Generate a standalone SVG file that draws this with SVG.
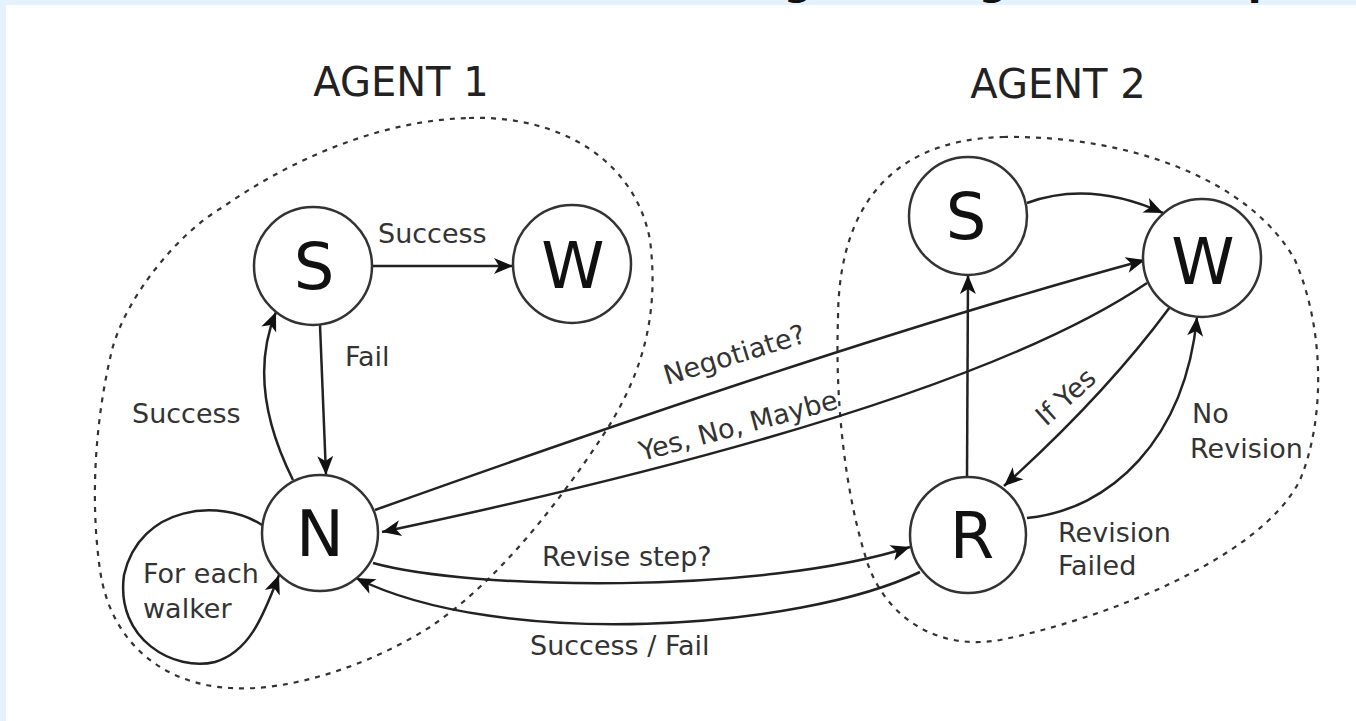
<svg xmlns="http://www.w3.org/2000/svg" width="1356" height="721" viewBox="0 0 1356 721">
  <style>
    .node { fill: #ffffff; stroke: #333333; stroke-width: 2.5; }
    .letter { font-family: "DejaVu Sans", "Liberation Sans", sans-serif; font-size: 64px; fill: #111111; text-anchor: middle; }
    .lbl { font-family: "DejaVu Sans", "Liberation Sans", sans-serif; font-size: 27px; fill: #333333; }
    .agent { font-family: "DejaVu Sans", "Liberation Sans", sans-serif; font-size: 40px; fill: #222222; text-anchor: middle; }
    .title { font-family: "DejaVu Sans", "Liberation Sans", sans-serif; font-size: 40px; font-weight: bold; fill: #111111; text-anchor: middle; }
    .boundary { fill: none; stroke: #333333; stroke-width: 2.2; stroke-dasharray: 5 6; }
    .edge { fill: none; stroke: #222222; stroke-width: 2.5; marker-end: url(#arrow); }
  </style>
  <defs>
    <marker id="arrow" markerUnits="userSpaceOnUse" markerWidth="22" markerHeight="20" viewBox="-20 -10 22 20" refX="0" refY="0" orient="auto">
      <path d="M0,0 L-19,-8 L-14,0 L-19,8 Z" fill="#111111"/>
    </marker>
  </defs>

  <!-- page background -->
  <rect x="0" y="0" width="1356" height="721" fill="#e3f2fd"/>
  <rect x="6" y="5" width="1350" height="716" fill="#ffffff"/>

  <!-- cropped title fragments -->
  <g id="title-fragments">
    <text class="title" x="798" y="-6">g</text>
    <text class="title" x="993" y="-6">g</text>
    <text class="title" x="1262" y="-6">p</text>
  </g>

  <!-- agent boundaries -->
  <g id="agent1">
    <text class="agent" x="401" y="96">AGENT 1</text>
    <path class="boundary" d="M469,118 C560,115 635,160 650,240 C660,320 640,380 600,440 C560,500 500,580 430,627 C370,665 290,692 230,688 C160,684 110,640 100,570 C90,500 95,420 112,350 C125,300 175,235 223,207 C290,160 380,120 469,118 Z"/>
  </g>
  <g id="agent2">
    <text class="agent" x="1058" y="98">AGENT 2</text>
    <path class="boundary" d="M1003,137 C1130,135 1250,180 1295,260 C1325,330 1325,420 1300,480 C1260,560 1100,620 1000,640 C930,652 880,610 865,555 C845,490 835,400 838,320 C838,220 880,140 1003,137 Z"/>
  </g>

  <!-- connectors -->
  <g id="connectors">
    <path class="edge" d="M373,266 L513,266"/>
    <text class="lbl" x="378" y="243">Success</text>

    <path class="edge" d="M320,325 L326,475"/>
    <text class="lbl" x="345" y="366">Fail</text>

    <path class="edge" d="M293,480 C268,430 252,370 276,312"/>
    <text class="lbl" x="132" y="423">Success</text>

    <path class="edge" d="M262,525 C220,498 140,505 124,575 C115,640 175,672 215,662 C248,652 262,620 279,575"/>
    <text class="lbl" x="143" y="583">For each</text>
    <text class="lbl" x="143" y="618">walker</text>

    <path class="edge" d="M375,510 Q850,340 1145,260"/>
    <text class="lbl" transform="translate(667,385) rotate(-17)">Negotiate?</text>

    <path class="edge" d="M1147,283 Q960,410 382,532"/>
    <text class="lbl" transform="translate(642,461) rotate(-15)">Yes, No, Maybe</text>

    <path class="edge" d="M373,563 C470,590 760,595 910,547"/>
    <text class="lbl" x="542" y="566">Revise step?</text>

    <path class="edge" d="M920,572 C800,630 500,650 356,578"/>
    <text class="lbl" x="530" y="655">Success / Fail</text>

    <path class="edge" d="M1027,203 Q1090,180 1163,213"/>

    <path class="edge" d="M967,477 L968,275"/>

    <path class="edge" d="M1170,307 Q1105,395 1004,486"/>
    <text class="lbl" transform="translate(1046,427) rotate(-42)">If Yes</text>

    <path class="edge" d="M1027,518 C1110,510 1185,440 1197,317"/>
    <text class="lbl" x="1192" y="423">No</text>
    <text class="lbl" x="1190" y="458">Revision</text>
    <text class="lbl" x="1058" y="542">Revision</text>
    <text class="lbl" x="1058" y="575">Failed</text>
  </g>

  <!-- nodes -->
  <g id="a1-S"><circle class="node" cx="313" cy="266" r="59"/><text class="letter" x="314" y="289">S</text></g>
  <g id="a1-W"><circle class="node" cx="572" cy="264" r="59"/><text class="letter" x="573" y="288">W</text></g>
  <g id="a1-N"><circle class="node" cx="320" cy="533" r="58"/><text class="letter" x="320" y="556">N</text></g>
  <g id="a2-S"><circle class="node" cx="968" cy="216" r="59"/><text class="letter" x="966" y="239">S</text></g>
  <g id="a2-W"><circle class="node" cx="1202" cy="258" r="59"/><text class="letter" x="1203" y="284">W</text></g>
  <g id="a2-R"><circle class="node" cx="968" cy="535" r="58"/><text class="letter" x="972" y="558">R</text></g>
</svg>
